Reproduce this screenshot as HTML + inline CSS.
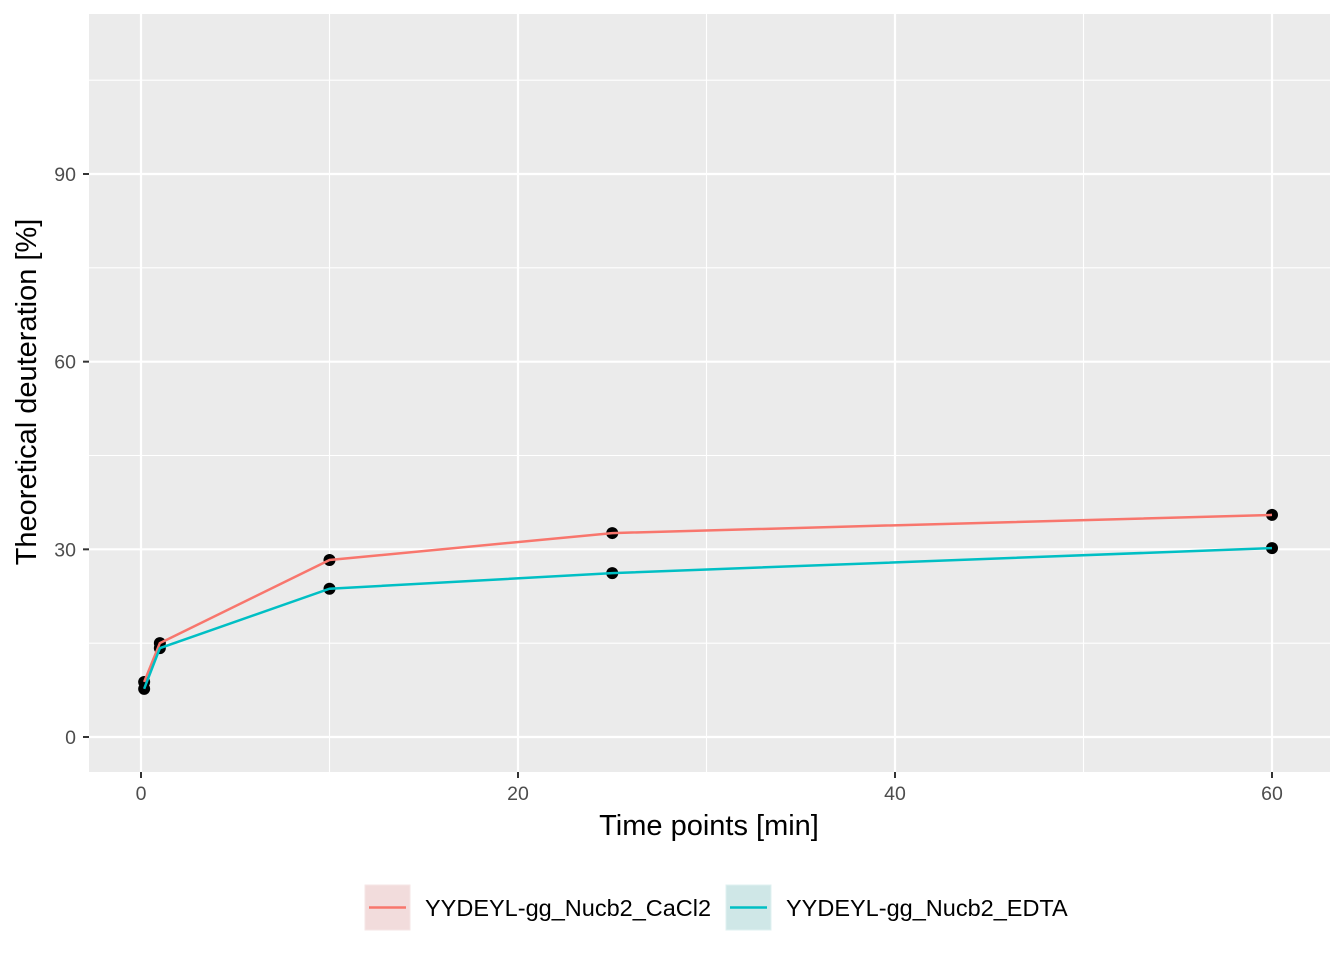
<!DOCTYPE html>
<html><head><meta charset="utf-8"><style>
body{margin:0;background:#fff;}
svg text{font-family:"Liberation Sans",sans-serif;}
</style></head><body>
<svg id="chart" width="1344" height="960" xmlns="http://www.w3.org/2000/svg">
<rect x="0" y="0" width="1344" height="960" fill="#fff"/>
<rect x="89" y="14" width="1241" height="758" fill="#ebebeb"/>
<g id="grid"></g>
<g id="series"></g>
<g id="axes"></g>
<text x="709" y="835" text-anchor="middle" font-size="29" fill="#000">Time points [min]</text>
<text transform="translate(36,392) rotate(-90)" text-anchor="middle" font-size="29" fill="#000">Theoretical deuteration [%]</text>
<g>
<g>
<rect x="365" y="885" width="45" height="45" fill="#f2dcdc" stroke="#f6e6e6"/>
<line x1="369" y1="907.5" x2="406" y2="907.5" stroke="#f8766d" stroke-width="2.5"/>
<text x="425" y="916" font-size="23.5" fill="#000">YYDEYL-gg_Nucb2_CaCl2</text>
</g>
<g>
<rect x="726" y="885" width="45" height="45" fill="#cfe7e7" stroke="#dff0f0"/>
<line x1="730" y1="907.5" x2="767" y2="907.5" stroke="#00bfc4" stroke-width="2.5"/>
<text x="786" y="916" font-size="23.5" fill="#000">YYDEYL-gg_Nucb2_EDTA</text>
</g>
</g>
</svg>
<script>
const times = [0.167, 1, 10, 25, 60];
const cacl2Values = [8.8, 15.0, 28.3, 32.6, 35.5];
const edtaValues = [7.7, 14.2, 23.7, 26.2, 30.2];
const xTicks = [0, 20, 40, 60];
const yTicks = [0, 30, 60, 90];
const NS = "http://www.w3.org/2000/svg";
const X = v => 141 + (v - 0) * (1272 - 141) / 60;
const Y = v => 737 - v * (737 - 174) / 90;
const grid = document.getElementById('grid'), axes = document.getElementById('axes'), series = document.getElementById('series');
function mk(tag, attrs, parent){const e=document.createElementNS(NS,tag);for(const k in attrs)e.setAttribute(k,attrs[k]);parent.appendChild(e);return e;}
for (let i = 0; i < xTicks.length - 1; i++) { const m=(xTicks[i]+xTicks[i+1])/2; const l=mk('line',{x1:X(m),x2:X(m),y1:14,y2:772,stroke:'#fff','stroke-width':1.1},grid);   }
for (let i = 0; i < yTicks.length; i++) { const m=yTicks[i]+15; if (Y(m)<14) continue; const l=mk('line',{x1:89,x2:1330,y1:Y(m),y2:Y(m),stroke:'#fff','stroke-width':1.1},grid);   }
xTicks.forEach(t => {
  const l=mk('line',{x1:X(t),x2:X(t),y1:14,y2:772,stroke:'#fff','stroke-width':2.2},grid);
   
  mk('line',{x1:X(t),x2:X(t),y1:772,y2:778,stroke:'#333','stroke-width':2},axes);
  const tx=mk('text',{x:X(t),y:800,'text-anchor':'middle','font-size':19.5,fill:'#4d4d4d'},axes); tx.textContent=t;
   
});
yTicks.forEach(t => {
  const l=mk('line',{x1:89,x2:1330,y1:Y(t),y2:Y(t),stroke:'#fff','stroke-width':2.2},grid);
   
  mk('line',{x1:83,x2:89,y1:Y(t),y2:Y(t),stroke:'#333','stroke-width':2},axes);
  const tx=mk('text',{x:76,y:Y(t)+7,'text-anchor':'end','font-size':19.5,fill:'#4d4d4d'},axes); tx.textContent=t;
   
});
function drawSeries(vals, color, name){
  const p=mk('polyline',{points:times.map((t,i)=>X(t)+','+Y(vals[i])).join(' '),fill:'none',stroke:color,'stroke-width':2.5},series);
   
}
function drawPoints(vals, name){
  times.forEach((t,i)=>{ const c=mk('circle',{cx:X(t),cy:Y(vals[i]),r:6,fill:'#000'},series);
      });
}
drawPoints(cacl2Values,'cacl2'); drawPoints(edtaValues,'edta');
drawSeries(cacl2Values,'#f8766d','cacl2'); drawSeries(edtaValues,'#00bfc4','edta');
</script>
</body></html>
